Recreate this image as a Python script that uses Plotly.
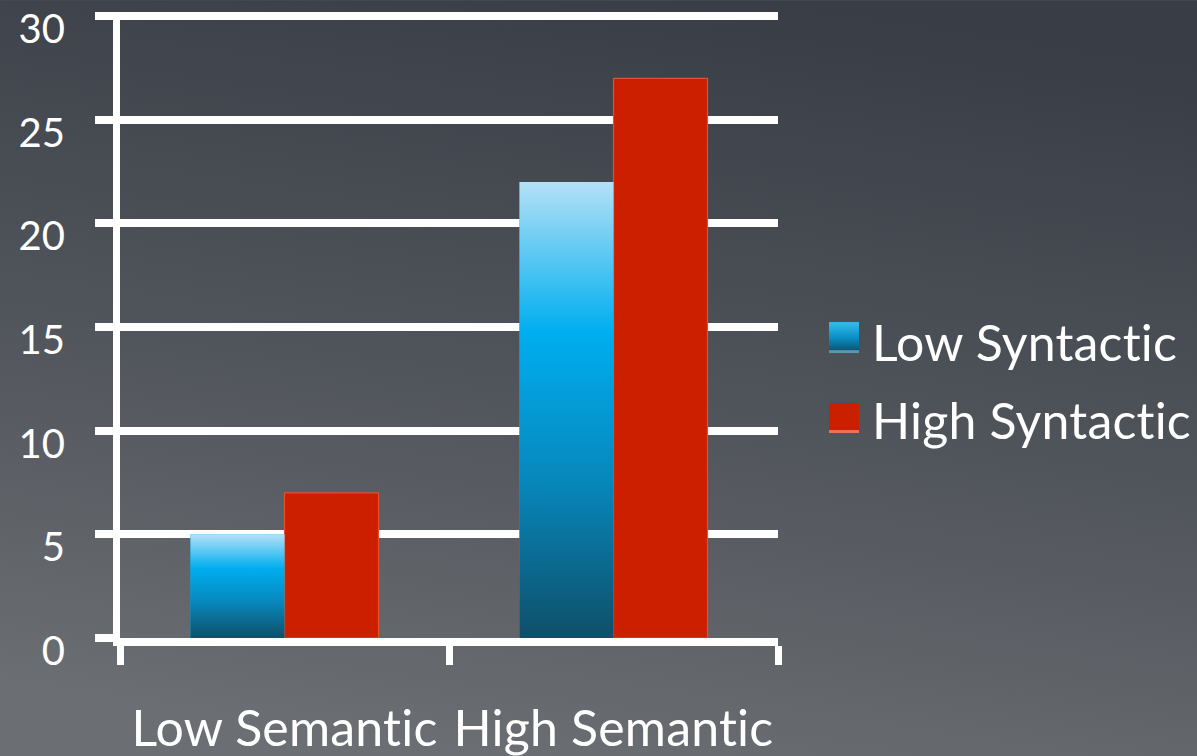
import base64
import plotly.graph_objects as go

categories = ["Low Semantic", "High Semantic"]
series_names = ["Low Syntactic", "High Syntactic"]
low_syntactic = [5, 22]
high_syntactic = [7, 27]
y_ticks = [0, 5, 10, 15, 20, 25, 30]

W, H = 1197, 756
Y_MAX = 30.2
ML, MR, MB = 120, 419, 118
PW = W - ML - MR
PX_PER_UNIT = (638 - 16) / 30.0
PH = PX_PER_UNIT * Y_MAX
MT = H - MB - PH

FONT = "Lato"
BAR_W = 0.2857
blue_scale = [[0, "#0f4f69"], [0.35, "#0788bd"], [0.67, "#00aeef"], [1, "#b3e1f7"]]
RED = "#cc1f00"
NOLIG = '<span style="font-variant-ligatures:none;letter-spacing:0.2px">{}</span>'


def svg_uri(svg):
    return "data:image/svg+xml;base64," + base64.b64encode(svg.encode()).decode()


bg_svg = (
    '<svg xmlns="http://www.w3.org/2000/svg" width="1197" height="756" preserveAspectRatio="none">'
    '<defs><linearGradient id="g" x1="0.62" y1="0" x2="0.38" y2="1">'
    '<stop offset="0" stop-color="#393d45"/><stop offset="0.5" stop-color="#4f535a"/>'
    '<stop offset="1" stop-color="#6b6e72"/></linearGradient></defs>'
    '<rect width="1197" height="756" fill="url(#g)"/></svg>'
)
swatch_svg = (
    '<svg xmlns="http://www.w3.org/2000/svg" width="30" height="30" preserveAspectRatio="none">'
    '<defs><linearGradient id="s" x1="0" y1="0" x2="0" y2="1">'
    '<stop offset="0" stop-color="#35bdf0"/><stop offset="0.5" stop-color="#0a8fc6"/>'
    '<stop offset="0.9" stop-color="#0b5877"/><stop offset="0.92" stop-color="#5a97ad"/>'
    '<stop offset="1" stop-color="#5a97ad"/></linearGradient></defs>'
    '<rect width="30" height="30" fill="url(#s)"/></svg>'
)

xs = list(range(len(categories)))

fig = go.Figure()
fig.add_trace(go.Bar(
    x=xs, y=low_syntactic, name=series_names[0], offset=-BAR_W, width=BAR_W,
    marker=dict(color="#00aeef", line=dict(width=0)), showlegend=False,
))
fig.add_trace(go.Bar(
    x=xs, y=high_syntactic, name=series_names[1], offset=0, width=BAR_W,
    marker=dict(color=RED, line=dict(width=1.2, color="#e4502f")), showlegend=False,
))
# gradient overlay for the Low Syntactic bars, one trace per bar
for xi, v in zip(xs, low_syntactic):
    fig.add_trace(go.Scatter(
        x=[xi - BAR_W, xi - BAR_W, xi, xi, xi - BAR_W],
        y=[0, v, v, 0, 0],
        mode="lines", line=dict(width=0), fill="toself",
        fillgradient=dict(type="vertical", colorscale=blue_scale),
        hoverinfo="skip", showlegend=False,
    ))


def px_to_paper_x(px):
    return (px - ML) / PW


def px_to_paper_y(py):
    return (H - MB - py) / PH


images = [
    dict(source=svg_uri(bg_svg), xref="paper", yref="paper",
         x=-ML / PW, y=1 + MT / PH, sizex=W / PW, sizey=H / PH,
         sizing="stretch", layer="below", xanchor="left", yanchor="top"),
    dict(source=svg_uri(swatch_svg), xref="paper", yref="paper",
         x=px_to_paper_x(829), y=px_to_paper_y(322), sizex=30 / PW, sizey=31 / PH,
         sizing="stretch", layer="above", xanchor="left", yanchor="top"),
]
shapes = [
    dict(type="rect", xref="paper", yref="paper",
         x0=px_to_paper_x(829), x1=px_to_paper_x(859),
         y0=px_to_paper_y(433), y1=px_to_paper_y(403),
         fillcolor=RED, line=dict(width=0)),
    dict(type="rect", xref="paper", yref="paper",
         x0=px_to_paper_x(829), x1=px_to_paper_x(859),
         y0=px_to_paper_y(433), y1=px_to_paper_y(430),
         fillcolor="#e8735c", line=dict(width=0)),
]
annotations = [
    dict(text=NOLIG.format(series_names[0]), xref="paper", yref="paper",
         x=px_to_paper_x(870), y=px_to_paper_y(342), xanchor="left", yanchor="middle",
         showarrow=False, font=dict(family=FONT, size=50, color="white")),
    dict(text=NOLIG.format(series_names[1]), xref="paper", yref="paper",
         x=px_to_paper_x(870), y=px_to_paper_y(420), xanchor="left", yanchor="middle",
         showarrow=False, font=dict(family=FONT, size=50, color="white")),
]

fig.update_layout(
    width=W, height=H, autosize=False,
    margin=dict(l=ML, r=MR, t=MT, b=MB, pad=0, autoexpand=False),
    paper_bgcolor="#50545b", plot_bgcolor="rgba(0,0,0,0)",
    barmode="overlay", showlegend=False,
    images=images, shapes=shapes, annotations=annotations,
    font=dict(family=FONT, color="white"),
)
fig.update_xaxes(
    range=[-0.5, 1.5], tickvals=xs, ticktext=[NOLIG.format(c) for c in categories],
    ticks="", showgrid=False, zeroline=False, automargin=False,
    showline=True, linewidth=8, linecolor="white",
    tickfont=dict(family=FONT, size=50, color="white"),
    ticklabelstandoff=40,
    minor=dict(tickvals=[-0.5, 0.5, 1.5], ticks="outside", ticklen=19,
               tickwidth=7, tickcolor="white", showgrid=False),
)
fig.update_yaxes(
    range=[0, Y_MAX], tickvals=y_ticks, automargin=False,
    ticks="outside", ticklen=18, tickwidth=8, tickcolor="white",
    showgrid=True, gridwidth=8, gridcolor="white", zeroline=False,
    showline=True, linewidth=7, linecolor="white",
    tickfont=dict(family=FONT, size=40, color="white"),
    ticklabelstandoff=22, ticklabelshift=13,
)

fig.write_html("out.html")
